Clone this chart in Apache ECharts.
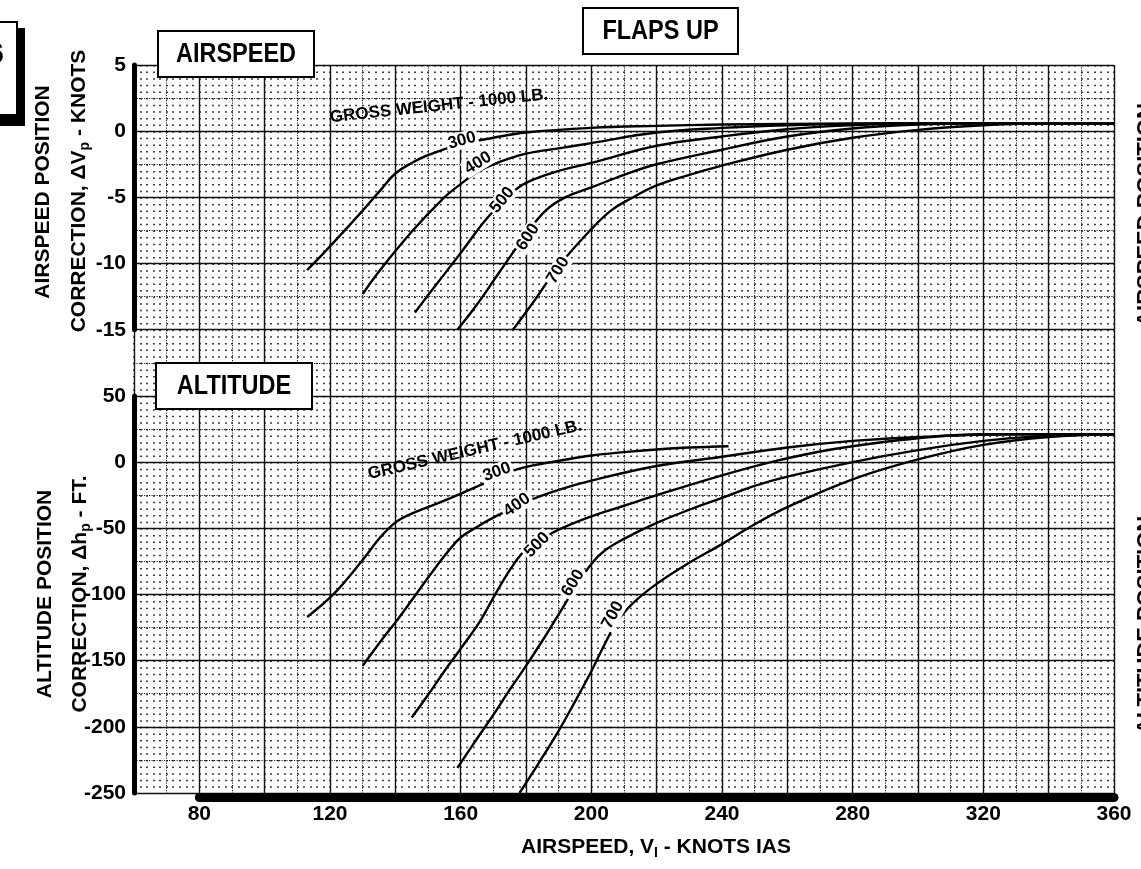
<!DOCTYPE html>
<html>
<head>
<meta charset="utf-8">
<script src="https://cdn.jsdelivr.net/npm/echarts@6/dist/echarts.min.js"></script>
<style>
  html, body { margin: 0; padding: 0; background: #fff; }
  #chart { width: 1141px; height: 869px; }
</style>
</head>
<body>
<div id="chart"></div>
<script>
// ---- data ----
const speedTicks = [80, 120, 160, 200, 240, 280, 320, 360];
const airspeedTicks = [-15, -10, -5, 0, 5];
const altitudeTicks = [-250, -200, -150, -100, -50, 0, 50];
const weights = ['300', '400', '500', '600', '700'];

// airspeed position correction (knots) vs IAS
const as300 = [[113,-10.5],[120,-8.7],[130,-6.0],[136,-4.3],[140,-3.2],[145,-2.4],[150,-1.8],[160,-1.0],[170,-0.5],[180,-0.1],[200,0.25],[220,0.4],[240,0.5],[260,0.55],[300,0.6],[360,0.6]];
const as400 = [[130,-12.3],[135,-10.6],[145,-7.6],[155,-5.0],[160,-4.0],[165,-3.1],[170,-2.5],[180,-1.7],[190,-1.3],[200,-0.9],[220,-0.1],[240,0.25],[260,0.45],[280,0.55],[320,0.6],[360,0.6]];
const as500 = [[146,-13.7],[150,-12.4],[160,-9.2],[168,-6.6],[175,-4.8],[180,-3.9],[190,-3.0],[200,-2.4],[220,-1.1],[240,-0.4],[260,0.15],[280,0.45],[300,0.6],[360,0.6]];
const as600 = [[159,-15],[165,-13.1],[172,-10.6],[180,-7.8],[186,-6.0],[192,-5.0],[200,-4.25],[210,-3.3],[220,-2.5],[240,-1.4],[260,-0.4],[280,0.2],[300,0.5],[320,0.6],[360,0.6]];
const as700 = [[176,-15],[182,-13.0],[190,-10.2],[200,-7.4],[206,-6.0],[212,-5.1],[220,-4.1],[230,-3.3],[240,-2.6],[260,-1.4],[280,-0.5],[300,0.1],[320,0.45],[340,0.6],[360,0.6]];

// altitude position correction (ft) vs IAS
const al300 = [[113,-117],[121,-100],[129,-77],[135,-58],[138,-50],[141,-44],[145,-39],[150,-34],[160,-24],[170,-13],[178,-5],[190,1],[200,5],[210,7.5],[220,9.5],[230,11],[242,12]];
const al400 = [[130,-154],[135,-137],[141,-118],[146,-101],[151,-84],[156,-68],[160,-57],[165,-49],[170,-42],[180,-30],[190,-21],[200,-14],[220,-3],[240,4],[260,11],[280,16],[300,19],[330,21],[360,21]];
const al500 = [[145,-193],[150,-176],[155,-158],[160,-141],[166,-120],[171,-98],[176,-78],[180,-66],[185,-58],[190,-51],[200,-41],[210,-33],[220,-25],[240,-10],[255,0],[270,8],[280,12],[300,18],[320,21],[360,21]];
const al600 = [[159,-231],[165,-209],[170,-191],[175,-172],[180,-154],[185,-135],[190,-115],[195,-95],[200,-77],[204,-67],[210,-58],[220,-46],[230,-36],[240,-27],[250,-18],[260,-11],[280,0],[300,9],[320,16],[340,20],[360,21]];
const al700 = [[178,-250],[184,-227],[190,-203],[195,-181],[200,-158],[204,-138],[208,-120],[213,-106],[220,-92],[230,-76],[240,-62],[250,-47],[260,-34],[280,-13],[300,2],[320,13],[340,19],[360,21]];

// curve label anchors [IAS, value, rotation]
const asLabelPos = [[160.4,-0.7,15],[165.3,-2.4,32],[172.7,-5.2,50],[180.6,-8.0,57],[189.8,-10.5,58]];
const alLabelPos = [[171.1,-7.5,20],[177.2,-32.4,35],[183.4,-62.6,45],[194.4,-91.3,58],[206.6,-115.5,62]];
const grossWeightText = 'GROSS WEIGHT - 1000 LB.';
const asGrossPos = [153.4, 1.9, 6];
const alGrossPos = [164.4, 9.2, 13];

// ---- layout ----
const FONT = "'Liberation Sans','Arial',sans-serif";
const L = 134, T = 65, W = 980;
const CELL_H = 66.18;
const H = CELL_H * 11;
const xMin = 60, xMax = speedTicks[speedTicks.length - 1];

const chart = echarts.init(document.getElementById('chart'));

function curve(data, idx) {
  return {
    type: 'line', xAxisIndex: idx, yAxisIndex: idx, data: data,
    symbol: 'none', smooth: 0.4,
    lineStyle: { color: '#000', width: 2.4 }, z: 3, silent: true
  };
}

function labelSeries(pos, idx, gross) {
  const items = pos.map((p, i) => ({ name: weights[i], value: [p[0], p[1]], label: { rotate: p[2] } }));
  items.push({ name: grossWeightText, value: [gross[0], gross[1]],
    label: { rotate: gross[2], backgroundColor: 'transparent', padding: 0 } });
  return {
    type: 'scatter', xAxisIndex: idx, yAxisIndex: idx, data: items,
    symbolSize: 0.01, itemStyle: { color: 'transparent', opacity: 1 }, silent: true, z: 5,
    emphasis: { disabled: true },
    label: { show: true, position: 'inside', formatter: '{b}', color: '#000', opacity: 1,
      textBorderWidth: 0, textBorderColor: 'transparent', textShadowBlur: 0,
      fontFamily: FONT, fontWeight: 'bold', fontSize: 17, backgroundColor: '#fff', padding: [0, 2] }
  };
}

const hidden = { axisLine: { show: false }, axisTick: { show: false }, axisLabel: { show: false } };
const tickFont = { fontFamily: FONT, fontWeight: 'bold', fontSize: 21, color: '#000' };
const boxStyle = { fill: '#fff', stroke: '#000', lineWidth: 2 };

function vtext(x, y, text, size, sx) {
  return { type: 'text', z: 100, x: x, y: y, rotation: Math.PI / 2, scaleX: sx || 1,
    style: { text: text, font: 'bold ' + size + 'px ' + FONT, fill: '#000', align: 'center', verticalAlign: 'middle' } };
}

function subText(x, y, rot, pre, sub, post, size) {
  return { type: 'text', z: 100, x: x, y: y, rotation: rot,
    style: { text: '{a|' + pre + '}{s|' + sub + '}{a|' + post + '}', align: 'center', verticalAlign: 'middle',
      rich: { a: { font: 'bold ' + size + 'px ' + FONT, fill: '#000', lineHeight: size + 6 },
              s: { font: 'bold ' + Math.round(size * 0.68) + 'px ' + FONT, fill: '#000',
                   lineHeight: Math.round(size * 0.68), verticalAlign: 'bottom' } } } };
}

function boxTitle(x, y, w, h, text) {
  return [
    { type: 'rect', z: 100, shape: { x: x, y: y, width: w, height: h }, style: boxStyle },
    { type: 'text', z: 101, x: x + w / 2, y: y + h / 2 + 1, scaleX: 0.87,
      style: { text: text, font: 'bold 27px ' + FONT, fill: '#000', align: 'center', verticalAlign: 'middle' } }
  ];
}

const option = {
  animation: false,
  backgroundColor: '#fff',
  grid: [
    { left: L, top: T, width: W, height: H },
    { left: L, top: T, width: W, height: H },
    { left: L, top: T, width: W, height: CELL_H * 4 },
    { left: L, top: T + CELL_H * 5, width: W, height: CELL_H * 6 },
    { left: L + W / 15, top: T + CELL_H * 5, width: W * 14 / 15, height: CELL_H * 6 }
  ],
  xAxis: [
    Object.assign({ gridIndex: 0, type: 'value', min: xMin, max: xMax, interval: 2,
      splitLine: { show: true, lineStyle: { color: '#000', width: 1.5, type: [1.5, CELL_H / 10 - 1.5] } } }, hidden),
    Object.assign({ gridIndex: 1, type: 'value', min: xMin, max: xMax, interval: 20,
      splitLine: { show: true, lineStyle: { color: '#111', width: 1.4 } },
      minorTick: { show: false, splitNumber: 2 },
      minorSplitLine: { show: true, lineStyle: { color: '#222', width: 1, type: [1.2, 1.3] } } }, hidden),
    { gridIndex: 2, type: 'value', min: xMin, max: xMax, show: false },
    { gridIndex: 3, type: 'value', min: xMin, max: xMax, show: false },
    { gridIndex: 4, type: 'value', min: speedTicks[0], max: xMax, interval: 40, position: 'bottom', offset: 4.5,
      axisLine: { show: true, onZero: false, lineStyle: { color: '#000', width: 9 } },
      axisTick: { show: false }, splitLine: { show: false },
      axisLabel: Object.assign({ margin: 6 }, tickFont) }
  ],
  yAxis: [
    { gridIndex: 0, type: 'value', min: 0, max: 11, show: false },
    Object.assign({ gridIndex: 1, type: 'value', min: 0, max: 11, interval: 1,
      splitLine: { show: true, lineStyle: { color: '#111', width: 1.4 } },
      minorTick: { show: false, splitNumber: 2 },
      minorSplitLine: { show: true, lineStyle: { color: '#222', width: 1, type: [1.2, 1.3] } } }, hidden),
    { gridIndex: 2, type: 'value', min: airspeedTicks[0], max: airspeedTicks[airspeedTicks.length - 1], interval: 5,
      axisLine: { show: true, onZero: false, lineStyle: { color: '#000', width: 5 } }, axisTick: { show: false },
      splitLine: { show: false }, axisLabel: Object.assign({ margin: 8 }, tickFont) },
    { gridIndex: 3, type: 'value', min: altitudeTicks[0], max: altitudeTicks[altitudeTicks.length - 1], interval: 50,
      axisLine: { show: true, onZero: false, lineStyle: { color: '#000', width: 5 } }, axisTick: { show: false },
      splitLine: { show: false }, axisLabel: Object.assign({ margin: 8 }, tickFont) },
    { gridIndex: 4, type: 'value', min: altitudeTicks[0], max: altitudeTicks[altitudeTicks.length - 1], show: false }
  ],
  series: [
    curve(as300, 2), curve(as400, 2), curve(as500, 2), curve(as600, 2), curve(as700, 2),
    curve(al300, 3), curve(al400, 3), curve(al500, 3), curve(al600, 3), curve(al700, 3),
    labelSeries(asLabelPos, 2, asGrossPos),
    labelSeries(alLabelPos, 3, alGrossPos)
  ],
  graphic: [
    // page tab at top-left
    { type: 'rect', z: 100, shape: { x: -10, y: 28, width: 35, height: 98 }, style: { fill: '#000' } },
    { type: 'rect', z: 101, shape: { x: -10, y: 22, width: 27, height: 93 }, style: boxStyle },
    { type: 'text', z: 102, x: 4, y: 55, style: { text: '6', font: 'bold 30px ' + FONT, fill: '#000', align: 'right', verticalAlign: 'middle' } }
  ].concat(
    boxTitle(583, 8, 155, 46, 'FLAPS UP'),
    boxTitle(158, 31, 156, 46, 'AIRSPEED'),
    boxTitle(156, 363, 156, 46, 'ALTITUDE'),
    [
      // axis titles
      vtext(43, 192, 'AIRSPEED POSITION', 21),
      subText(79, 191, Math.PI / 2, 'CORRECTION, \u0394V', 'p', ' - KNOTS', 21),
      vtext(45, 594, 'ALTITUDE POSITION', 21),
      subText(80, 594, Math.PI / 2, 'CORRECTION, \u0394h', 'p', ' - FT.', 21),
      subText(656, 847, 0, 'AIRSPEED, V', 'I', ' - KNOTS IAS', 21),
      // titles of the facing page, cut by the page edge
      vtext(1146, 215, 'AIRSPEED POSITION', 22),
      vtext(1146, 625, 'ALTITUDE POSITION', 22)
    ]
  )
};

chart.setOption(option);
</script>
</body>
</html>
